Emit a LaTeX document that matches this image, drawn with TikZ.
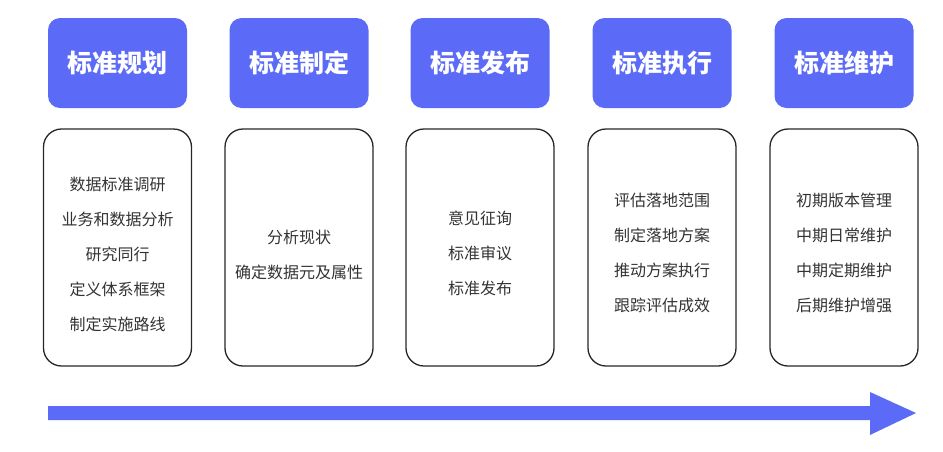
\documentclass[tikz,border=0pt]{standalone}
\usepackage{fontspec}
\usetikzlibrary{calc}
\newfontfamily\cjk{Noto Sans CJK SC}
\definecolor{hblue}{HTML}{5B6BF8}
\definecolor{txtgray}{HTML}{333333}
\begin{document}
\begin{tikzpicture}[x=1pt,y=-1pt,
  head/.style={fill=hblue,draw=none,rounded corners=12pt,minimum width=139pt,minimum height=90pt,inner sep=0pt,text=white,font=\cjk\bfseries\fontsize{25}{29}\selectfont},
  content/.style={draw=black!85,line width=1.3pt,rounded corners=18pt,minimum width=148pt,minimum height=237pt,inner sep=0pt},
  item/.style={text=txtgray,font=\cjk\fontsize{16}{19}\selectfont,inner sep=0pt}]
\useasboundingbox (0,0) rectangle (943,451);
\foreach \i/\cx/\t in {1/117.5/标准规划,2/299/标准制定,3/480/标准发布,4/662/标准执行,5/844/标准维护}{
  \node[head] (h\i) at (\cx,63) {\t};
  \node[content] (c\i) at (\cx,247.5) {};
}
\foreach \t [count=\k] in {数据标准调研,业务和数据分析,研究同行,定义体系框架,制定实施路线}{
  \node[item] (a\k) at (117.5,149+35*\k) {\t};}
\foreach \t [count=\k] in {分析现状,确定数据元及属性}{
  \node[item] (b\k) at (299,202+35*\k) {\t};}
\foreach \t [count=\k] in {意见征询,标准审议,标准发布}{
  \node[item] (d\k) at (480,183+35*\k) {\t};}
\foreach \t [count=\k] in {评估落地范围,制定落地方案,推动方案执行,跟踪评估成效}{
  \node[item] (e\k) at (662,165+35*\k) {\t};}
\foreach \t [count=\k] in {初期版本管理,中期日常维护,中期定期维护,后期维护增强}{
  \node[item] (f\k) at (844,165+35*\k) {\t};}
\coordinate (as) at (48,413);
\coordinate (ab) at (870,413);
\coordinate (at) at (916,413);
\fill[hblue] ($(as)+(0,-7)$) -- ($(ab)+(0,-7)$) -- ($(ab)+(0,-21)$) -- (at) -- ($(ab)+(0,22)$) -- ($(ab)+(0,7)$) -- ($(as)+(0,7)$) -- cycle;
\end{tikzpicture}
\end{document}
